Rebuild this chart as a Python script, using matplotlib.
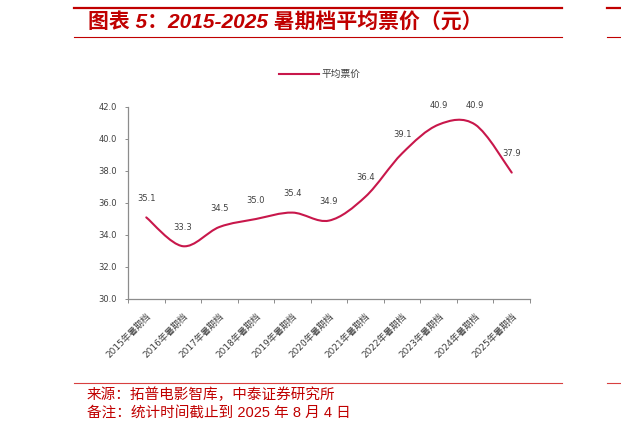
"""2015-2025 summer season average ticket price chart."""

import matplotlib

matplotlib.use("Agg")

import matplotlib.pyplot as plt
from matplotlib.lines import Line2D
from matplotlib.patches import PathPatch
from matplotlib.path import Path

plt.rcParams["font.family"] = ["DejaVu Sans", "Noto Sans CJK SC"]

years = ["2015", "2016", "2017", "2018", "2019", "2020",
         "2021", "2022", "2023", "2024", "2025"]
categories = [f"{y}年暑期档" for y in years]
avg_price = [35.1, 33.3, 34.5, 35.0, 35.4, 34.9, 36.4, 39.1, 40.9, 40.9, 37.9]
y_ticks = [30.0, 32.0, 34.0, 36.0, 38.0, 40.0, 42.0]

series_name = "平均票价"
title = "图表 5：2015-2025 暑期档平均票价（元）"
source = "来源：拓普电影智库，中泰证券研究所"
note = "备注：统计时间截止到 2025 年 8 月 4 日"

RED = "#C00000"
LINE = "#C8174B"
GREY_TXT = "#404040"
AXIS = "#8C8C8C"


def smooth_path(xs, ys):
    """Excel-style smoothed line: Catmull-Rom segments as cubic Beziers."""
    pts = list(zip(xs, ys))
    verts = [pts[0]]
    codes = [Path.MOVETO]
    n = len(pts)
    for i in range(n - 1):
        p0 = pts[i - 1] if i > 0 else pts[i]
        p1 = pts[i]
        p2 = pts[i + 1]
        p3 = pts[i + 2] if i + 2 < n else pts[i + 1]
        c1 = (p1[0] + (p2[0] - p0[0]) / 6, p1[1] + (p2[1] - p0[1]) / 6)
        c2 = (p2[0] - (p3[0] - p1[0]) / 6, p2[1] - (p3[1] - p1[1]) / 6)
        verts += [c1, c2, p2]
        codes += [Path.CURVE4] * 3
    return Path(verts, codes)


fig = plt.figure(figsize=(6.21, 4.34), dpi=100)
ax = fig.add_axes([128 / 621, 1 - 299 / 434, 402 / 621, 192 / 434])

xs = list(range(len(categories)))
ax.add_patch(PathPatch(smooth_path(xs, avg_price), fill=False,
                       edgecolor=LINE, linewidth=1.5, capstyle="round"))

for x, v in zip(xs, avg_price):
    ax.annotate(f"{v:.1f}", (x, v), xytext=(0, 13.5), textcoords="offset points",
                ha="center", va="center", fontsize=6, color=GREY_TXT)

ax.set_xlim(-0.5, len(categories) - 0.5)
ax.set_ylim(y_ticks[0], y_ticks[-1])
ax.set_yticks(y_ticks)
ax.set_yticklabels([f"{t:.1f}" for t in y_ticks])
ax.set_xticks(xs)
ax.set_xticklabels(categories, rotation=45, ha="right", va="top",
                   rotation_mode="anchor")
ax.set_xticks([x - 0.5 for x in range(len(categories) + 1)], minor=True)

ax.tick_params(axis="y", direction="out", length=2, width=0.7, color=AXIS,
               labelsize=6, labelcolor=GREY_TXT, pad=6)
ax.tick_params(axis="x", which="major", length=0, labelsize=6.5,
               labelcolor=GREY_TXT, pad=9)
ax.tick_params(axis="x", which="minor", direction="out", length=3, width=0.7,
               color=AXIS)

for side in ("top", "right"):
    ax.spines[side].set_visible(False)
for side in ("left", "bottom"):
    ax.spines[side].set_color(AXIS)
    ax.spines[side].set_linewidth(0.9)

handle = Line2D([], [], color=LINE, linewidth=1.5)
fig.legend([handle], [series_name], loc="center", frameon=False,
           bbox_to_anchor=(320 / 621, 1 - 74 / 434), fontsize=7,
           handlelength=4.1, handletextpad=0.3, labelcolor=GREY_TXT)

# header / footer rules
for x0, x1 in ((74, 562), (607, 621)):
    fig.add_artist(Line2D([x0 / 621, x1 / 621], [1 - 7.5 / 434] * 2,
                          color=RED, linewidth=1.6))
    fig.add_artist(Line2D([x0 / 621, x1 / 621], [1 - 37 / 434] * 2,
                          color=RED, linewidth=0.8))
    fig.add_artist(Line2D([x0 / 621, x1 / 621], [1 - 383 / 434] * 2,
                          color="#D84040", linewidth=0.8))

fig.text(88 / 621, 1 - 23 / 434, title, ha="left", va="center", fontsize=15,
         fontweight="bold", fontstyle="italic", color=RED,
         family=["Liberation Sans", "Noto Sans CJK SC"])
fig.text(87 / 621, 1 - 395 / 434, source, ha="left", va="center", fontsize=10.5,
         fontweight="light", color=RED,
         family=["Liberation Sans", "Noto Sans CJK SC"])
fig.text(87 / 621, 1 - 413 / 434, note, ha="left", va="center", fontsize=10.5,
         fontweight="light", color=RED,
         family=["Liberation Sans", "Noto Sans CJK SC"])

fig.savefig("out.png", dpi=100)
plt.close(fig)
